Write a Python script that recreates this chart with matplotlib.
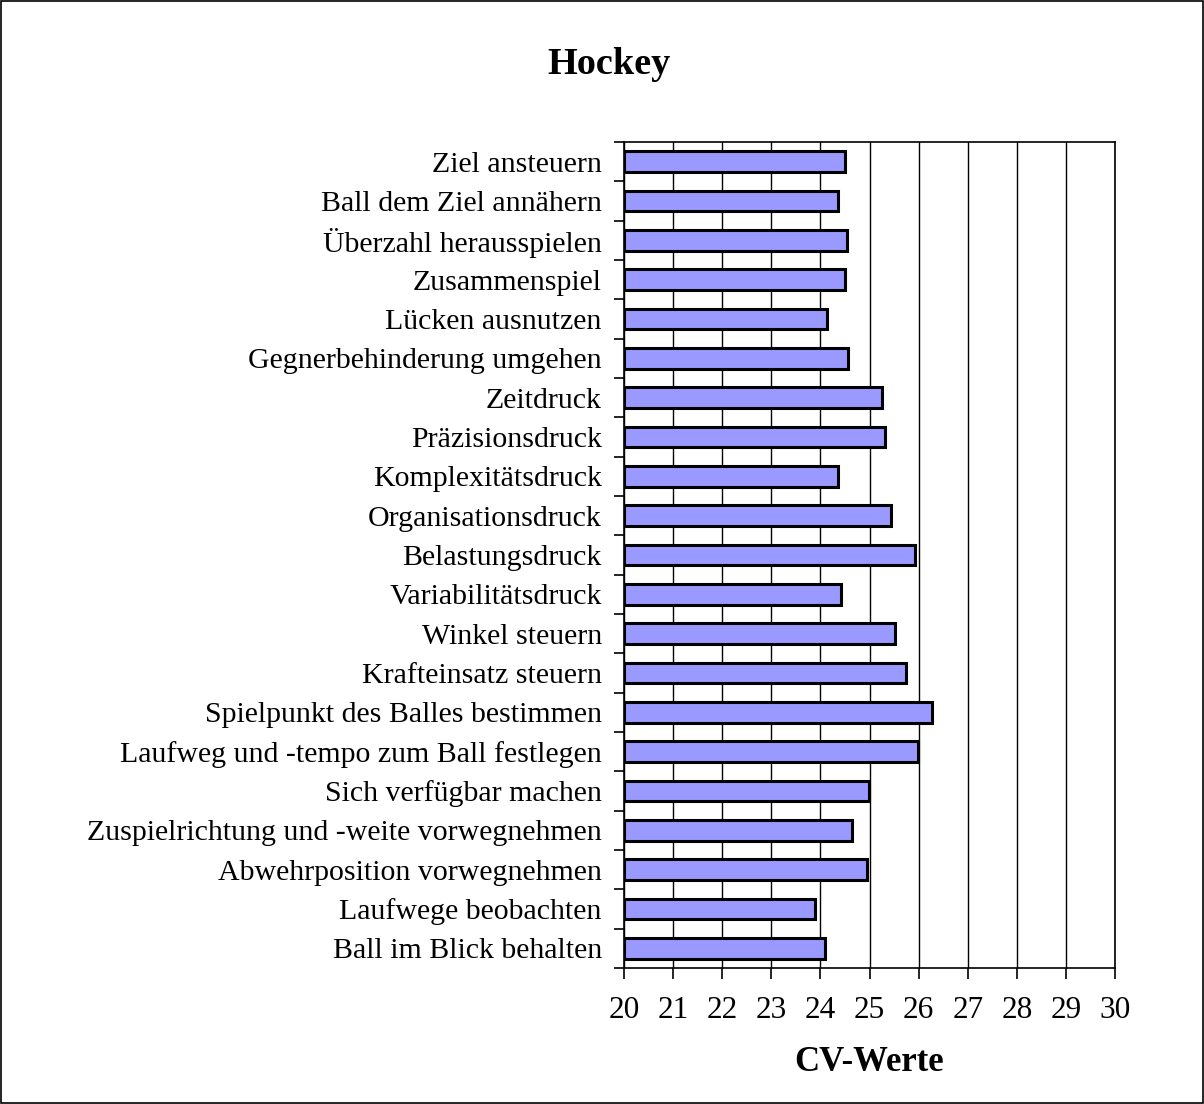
import numpy as np
import matplotlib
matplotlib.use("Agg")
import matplotlib.pyplot as plt
from matplotlib.patches import Rectangle

# Kategorien von oben nach unten
kategorien = [
    "Ziel ansteuern",
    "Ball dem Ziel annähern",
    "Überzahl herausspielen",
    "Zusammenspiel",
    "Lücken ausnutzen",
    "Gegnerbehinderung umgehen",
    "Zeitdruck",
    "Präzisionsdruck",
    "Komplexitätsdruck",
    "Organisationsdruck",
    "Belastungsdruck",
    "Variabilitätsdruck",
    "Winkel steuern",
    "Krafteinsatz steuern",
    "Spielpunkt des Balles bestimmen",
    "Laufweg und -tempo zum Ball festlegen",
    "Sich verfügbar machen",
    "Zuspielrichtung und -weite vorwegnehmen",
    "Abwehrposition vorwegnehmen",
    "Laufwege beobachten",
    "Ball im Blick behalten",
]
cv_werte = [24.50, 24.36, 24.55, 24.50, 24.13, 24.57, 25.25, 25.31, 24.35, 25.43,
            25.93, 24.41, 25.52, 25.74, 26.28, 25.99, 24.99, 24.64, 24.94, 23.88, 24.10]
x_ticks = list(range(20, 31))

plt.rcParams['font.family'] = ['Liberation Serif', 'DejaVu Serif']

fig = plt.figure(figsize=(12.04, 11.04), dpi=100)
ax = fig.add_axes([0.5183, 0.1232, 0.4078, 0.7482])

y = np.arange(len(kategorien))
ax.barh(y, np.array(cv_werte) - 20, left=20, height=0.53,
        color="#9999FF", edgecolor="black", linewidth=2.2, zorder=3)

ax.set_xlim(20, 30)
ax.set_ylim(len(kategorien) - 0.5, -0.5)
ax.set_xticks(x_ticks)
ax.set_xticklabels([str(t) for t in x_ticks], fontsize=22.5)
ax.tick_params(axis="x", direction="out", length=8, width=1.2, pad=12)
ax.grid(axis="x", color="black", linewidth=1.0, zorder=1)

ax.set_yticks(y)
ax.set_yticklabels(kategorien, fontsize=21.5)
ax.tick_params(axis="y", which="major", length=0, pad=16)
ax.set_yticks(np.arange(-0.5, len(kategorien)), minor=True)
ax.tick_params(axis="y", which="minor", direction="out", length=7, width=1.2)

for s in ax.spines.values():
    s.set_linewidth(1.2)

ax.set_xlabel("CV-Werte", fontsize=25, fontweight="bold", labelpad=15)
fig.text(0.506, 0.942, "Hockey", ha="center", va="center", fontsize=27.5, fontweight="bold")

fig.patches.append(Rectangle((0.001, 0.001), 0.998, 0.998, transform=fig.transFigure,
                             fill=False, edgecolor="black", linewidth=1.2))

fig.savefig("out.png", dpi=100)
